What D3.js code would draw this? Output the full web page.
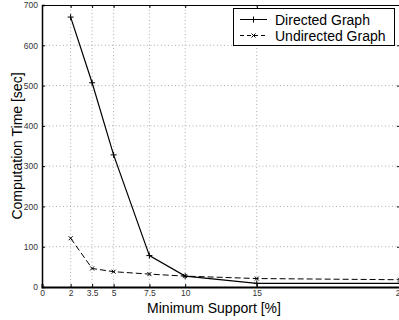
<!DOCTYPE html>
<html>
<head>
<meta charset="utf-8">
<script src="https://cdn.jsdelivr.net/npm/d3@7"></script>
<style>
  body { margin: 0; background: #fff; }
  svg { display: block; font-family: "Liberation Sans", Arial, sans-serif; }
</style>
</head>
<body>
<div id="chart"></div>
<script>
// chart data
const support = [2, 3.5, 5, 7.5, 10, 15, 25];
const directed = [670, 507, 328, 78, 27, 9, 9];
const undirected = [121, 46, 38, 32, 27, 21, 18];
const xTicks = [0, 2, 3.5, 5, 7.5, 10, 15, 25];
const yTicks = [0, 100, 200, 300, 400, 500, 600, 700];

const width = 399;
const height = 320;
const margin = {left: 42, right: -1, top: 5, bottom: 33};

const svg = d3.select("#chart")
  .append("svg")
  .attr("width", width)
  .attr("height", height);

const x = d3.scaleLinear()
  .domain([0, 25])
  .range([margin.left, width - margin.right]);

const y = d3.scaleLinear()
  .domain([0, 700])
  .range([height - margin.bottom, margin.top]);

const x0 = x.range()[0], x1 = x.range()[1];
const y0 = y.range()[0], y1 = y.range()[1];

// dotted grid
svg.append("g")
  .selectAll("line")
  .data(xTicks.filter(d => d > 0 && d < 25))
  .join("line")
    .attr("x1", d => x(d)).attr("x2", d => x(d))
    .attr("y1", y0).attr("y2", y1)
    .attr("stroke", "#999")
    .attr("stroke-width", 0.8)
    .attr("stroke-dasharray", "1,2.5");

svg.append("g")
  .selectAll("line")
  .data(yTicks.filter(d => d > 0 && d < 700))
  .join("line")
    .attr("x1", x0).attr("x2", x1)
    .attr("y1", d => y(d)).attr("y2", d => y(d))
    .attr("stroke", "#999")
    .attr("stroke-width", 0.8)
    .attr("stroke-dasharray", "1,2.5");

// axes with inward ticks (matlab look)
svg.append("g")
  .attr("transform", `translate(0,${y0})`)
  .call(d3.axisBottom(x).tickValues(xTicks).tickSize(-3).tickPadding(3)
    .tickFormat(d => d))
  .call(g => g.select(".domain").attr("stroke-width", 2))
  .call(g => g.selectAll("text").attr("font-size", "8.5px").attr("fill", "#333")
    .attr("font-family", "Liberation Sans, Arial, sans-serif"));

svg.append("g")
  .attr("transform", `translate(${x0},0)`)
  .call(d3.axisLeft(y).tickValues(yTicks).tickSize(-3).tickPadding(4))
  .call(g => g.select(".domain").attr("stroke-width", 1.5))
  .call(g => g.selectAll("text").attr("font-size", "8.5px").attr("fill", "#333")
    .attr("font-family", "Liberation Sans, Arial, sans-serif"));

svg.append("g")
  .attr("transform", `translate(0,${y1})`)
  .call(d3.axisTop(x).tickValues(xTicks).tickSize(-3).tickFormat(""))
  .call(g => g.select(".domain").attr("stroke-width", 1));

svg.append("g")
  .attr("transform", `translate(${x1},0)`)
  .call(d3.axisRight(y).tickValues(yTicks).tickSize(-3).tickFormat(""));

// lines
const line = d3.line()
  .x((d, i) => x(support[i]))
  .y(d => y(d));

svg.append("path")
  .datum(undirected)
  .attr("fill", "none")
  .attr("stroke", "#000")
  .attr("stroke-width", 1)
  .attr("stroke-dasharray", "6,3")
  .attr("d", line);

svg.append("path")
  .datum(directed)
  .attr("fill", "none")
  .attr("stroke", "#000")
  .attr("stroke-width", 1.2)
  .attr("d", line);

// markers
svg.append("g")
  .selectAll("path")
  .data(directed)
  .join("path")
    .attr("transform", (d, i) => `translate(${x(support[i])},${y(d)})`)
    .attr("d", "M-3,0H3M0,-3V3")
    .attr("stroke", "#000")
    .attr("stroke-width", 1);

svg.append("g")
  .selectAll("path")
  .data(undirected)
  .join("path")
    .attr("transform", (d, i) => `translate(${x(support[i])},${y(d)})`)
    .attr("d", "M-2,-2L2,2M-2,2L2,-2")
    .attr("stroke", "#000")
    .attr("stroke-width", 1);

// axis titles
svg.append("text")
  .attr("x", 214)
  .attr("y", 313)
  .attr("text-anchor", "middle")
  .attr("font-size", "14px")
  .text("Minimum Support [%]");

svg.append("text")
  .attr("transform", `translate(22,${(y0 + y1) / 2}) rotate(-90)`)
  .attr("text-anchor", "middle")
  .attr("font-size", "14px")
  .text("Computation Time [sec]");

// legend
const legend = svg.append("g");
legend.append("rect")
  .attr("x", 233.5).attr("y", 8.5)
  .attr("width", 161).attr("height", 37)
  .attr("fill", "#fff")
  .attr("stroke", "#000")
  .attr("stroke-width", 1);

const entries = [
  {label: "Directed Graph", dash: null, mark: "M-3,0H3M0,-3V3"},
  {label: "Undirected Graph", dash: "4,3", mark: "M-2,-2L2,2M-2,2L2,-2"}
];
entries.forEach((e, i) => {
  const cy = 19.5 + i * 16;
  legend.append("line")
    .attr("x1", 240).attr("x2", 267)
    .attr("y1", cy).attr("y2", cy)
    .attr("stroke", "#000")
    .attr("stroke-dasharray", e.dash);
  legend.append("path")
    .attr("transform", `translate(253.5,${cy})`)
    .attr("d", e.mark)
    .attr("stroke", "#000");
  legend.append("text")
    .attr("x", 275)
    .attr("y", cy + 5)
    .attr("font-size", "14px")
    .text(e.label);
});
</script>
</body>
</html>
